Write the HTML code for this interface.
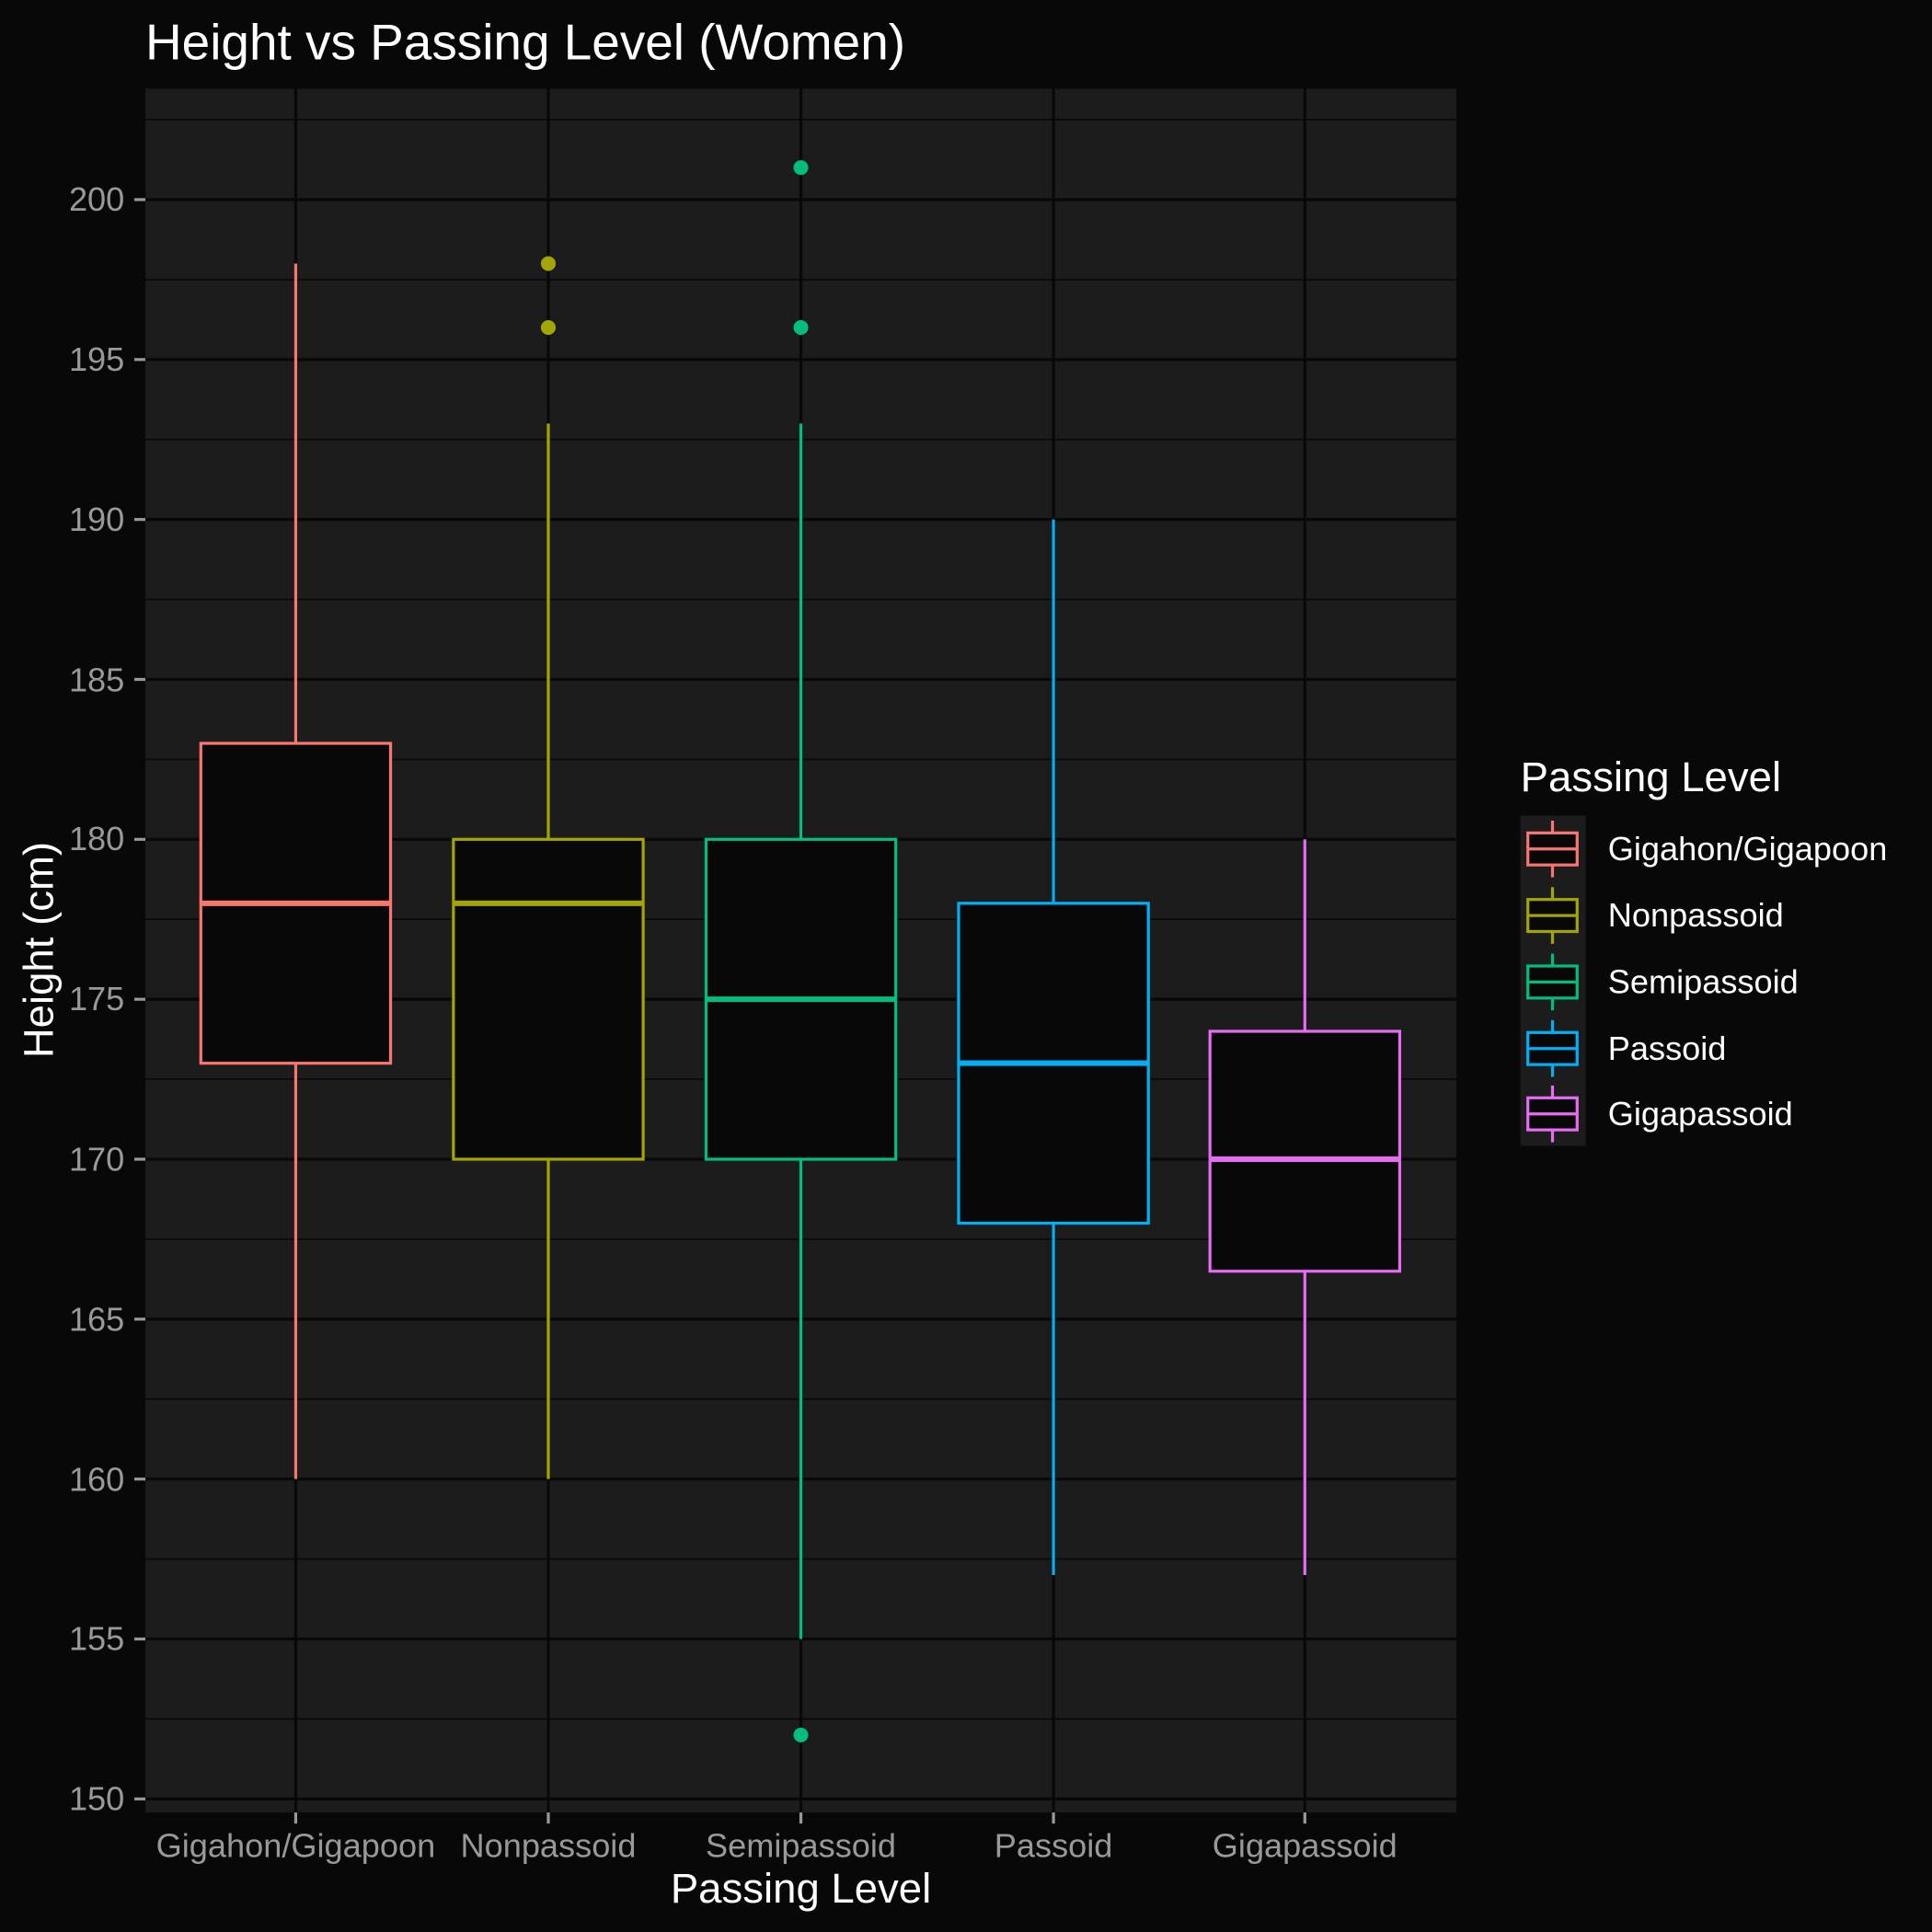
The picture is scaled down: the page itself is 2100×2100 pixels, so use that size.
<!DOCTYPE html>
<html><head><meta charset="utf-8"><style>
html,body{margin:0;padding:0;background:#080808;}
svg{display:block;}
text{font-family:"Liberation Sans",sans-serif;}
</style></head><body>
<svg width="2100" height="2100" viewBox="0 0 1568 1568" xmlns="http://www.w3.org/2000/svg">
<rect width="1568" height="1568" fill="#080808"/>
<text x="118" y="48" font-size="41" fill="#ffffff">Height vs Passing Level (Women)</text>
<rect x="118" y="72" width="1064" height="1399" fill="#1c1c1c"/>
<g stroke="#080808" stroke-width="1.2">
<line x1="118" x2="1182" y1="97.1" y2="97.1"/>
<line x1="118" x2="1182" y1="227" y2="227"/>
<line x1="118" x2="1182" y1="356.7" y2="356.7"/>
<line x1="118" x2="1182" y1="486.5" y2="486.5"/>
<line x1="118" x2="1182" y1="616.3" y2="616.3"/>
<line x1="118" x2="1182" y1="746.1" y2="746.1"/>
<line x1="118" x2="1182" y1="875.9" y2="875.9"/>
<line x1="118" x2="1182" y1="1005.7" y2="1005.7"/>
<line x1="118" x2="1182" y1="1135.5" y2="1135.5"/>
<line x1="118" x2="1182" y1="1265.3" y2="1265.3"/>
<line x1="118" x2="1182" y1="1395.1" y2="1395.1"/>
</g>
<g stroke="#080808" stroke-width="2.4">
<line x1="118" x2="1182" y1="162" y2="162"/>
<line x1="118" x2="1182" y1="291.8" y2="291.8"/>
<line x1="118" x2="1182" y1="421.6" y2="421.6"/>
<line x1="118" x2="1182" y1="551.4" y2="551.4"/>
<line x1="118" x2="1182" y1="681.2" y2="681.2"/>
<line x1="118" x2="1182" y1="811" y2="811"/>
<line x1="118" x2="1182" y1="940.8" y2="940.8"/>
<line x1="118" x2="1182" y1="1070.6" y2="1070.6"/>
<line x1="118" x2="1182" y1="1200.4" y2="1200.4"/>
<line x1="118" x2="1182" y1="1330.2" y2="1330.2"/>
<line x1="118" x2="1182" y1="1460" y2="1460"/>
<line x1="240" x2="240" y1="72" y2="1471"/>
<line x1="445" x2="445" y1="72" y2="1471"/>
<line x1="650" x2="650" y1="72" y2="1471"/>
<line x1="855" x2="855" y1="72" y2="1471"/>
<line x1="1059" x2="1059" y1="72" y2="1471"/>
</g>
<g stroke-width="2.4" fill="#080808">
<g stroke="#F8766D"><line x1="240" x2="240" y1="213.9" y2="1200.4"/><rect x="163" y="603.3" width="154" height="259.6"/><line x1="163" x2="317" y1="733.1" y2="733.1" stroke-width="4.5"/></g>
<g stroke="#A3A500"><line x1="445" x2="445" y1="343.7" y2="1200.4"/><rect x="368" y="681.2" width="154" height="259.6"/><line x1="368" x2="522" y1="733.1" y2="733.1" stroke-width="4.5"/></g>
<g stroke="#00BF7D"><line x1="650" x2="650" y1="343.7" y2="1330.2"/><rect x="573" y="681.2" width="154" height="259.6"/><line x1="573" x2="727" y1="811" y2="811" stroke-width="4.5"/></g>
<g stroke="#00B0F6"><line x1="855" x2="855" y1="421.6" y2="1278.3"/><rect x="778" y="733.1" width="154" height="259.6"/><line x1="778" x2="932" y1="862.9" y2="862.9" stroke-width="4.5"/></g>
<g stroke="#E76BF3"><line x1="1059" x2="1059" y1="681.2" y2="1278.3"/><rect x="982" y="837" width="154" height="194.7"/><line x1="982" x2="1136" y1="940.8" y2="940.8" stroke-width="4.5"/></g>
</g>
<g>
<circle cx="445" cy="213.9" r="6" fill="#A3A500"/><circle cx="445" cy="265.8" r="6" fill="#A3A500"/>
<circle cx="650" cy="136" r="6" fill="#00BF7D"/><circle cx="650" cy="265.8" r="6" fill="#00BF7D"/><circle cx="650" cy="1408.1" r="6" fill="#00BF7D"/>
</g>
<g stroke="#999" stroke-width="2.4">
<line x1="109" x2="118" y1="162" y2="162"/><line x1="109" x2="118" y1="291.8" y2="291.8"/><line x1="109" x2="118" y1="421.6" y2="421.6"/><line x1="109" x2="118" y1="551.4" y2="551.4"/><line x1="109" x2="118" y1="681.2" y2="681.2"/><line x1="109" x2="118" y1="811" y2="811"/><line x1="109" x2="118" y1="940.8" y2="940.8"/><line x1="109" x2="118" y1="1070.6" y2="1070.6"/><line x1="109" x2="118" y1="1200.4" y2="1200.4"/><line x1="109" x2="118" y1="1330.2" y2="1330.2"/><line x1="109" x2="118" y1="1460" y2="1460"/>
<line x1="240" x2="240" y1="1471" y2="1480"/><line x1="445" x2="445" y1="1471" y2="1480"/><line x1="650" x2="650" y1="1471" y2="1480"/><line x1="855" x2="855" y1="1471" y2="1480"/><line x1="1059" x2="1059" y1="1471" y2="1480"/>
</g>
<g fill="#999" font-size="27" text-anchor="end">
<text x="101" y="171">200</text><text x="101" y="301">195</text><text x="101" y="431">190</text><text x="101" y="561">185</text><text x="101" y="690">180</text><text x="101" y="820">175</text><text x="101" y="950">170</text><text x="101" y="1080">165</text><text x="101" y="1210">160</text><text x="101" y="1339">155</text><text x="101" y="1469">150</text>
</g>
<g fill="#999" font-size="27" text-anchor="middle">
<text x="240" y="1507">Gigahon/Gigapoon</text><text x="445" y="1507">Nonpassoid</text><text x="650" y="1507">Semipassoid</text><text x="855" y="1507">Passoid</text><text x="1059" y="1507">Gigapassoid</text>
</g>
<text x="650" y="1544" font-size="34" fill="#fff" text-anchor="middle">Passing Level</text>
<text transform="translate(43,771) rotate(-90)" font-size="34" fill="#fff" text-anchor="middle">Height (cm)</text>
<text x="1234" y="642" font-size="34" fill="#fff">Passing Level</text>
<rect x="1234" y="662" width="53" height="268" fill="#1c1c1c"/>
<g stroke-width="2.4" fill="#080808">
<g stroke="#F8766D"><line x1="1260" x2="1260" y1="666" y2="712"/><rect x="1240" y="676" width="40" height="26"/><line x1="1240" x2="1280" y1="689" y2="689"/></g>
<g stroke="#A3A500"><line x1="1260" x2="1260" y1="720" y2="766"/><rect x="1240" y="730" width="40" height="26"/><line x1="1240" x2="1280" y1="743" y2="743"/></g>
<g stroke="#00BF7D"><line x1="1260" x2="1260" y1="774" y2="820"/><rect x="1240" y="784" width="40" height="26"/><line x1="1240" x2="1280" y1="797" y2="797"/></g>
<g stroke="#00B0F6"><line x1="1260" x2="1260" y1="828" y2="874"/><rect x="1240" y="838" width="40" height="26"/><line x1="1240" x2="1280" y1="851" y2="851"/></g>
<g stroke="#E76BF3"><line x1="1260" x2="1260" y1="881" y2="927"/><rect x="1240" y="891" width="40" height="26"/><line x1="1240" x2="1280" y1="904" y2="904"/></g>
</g>
<g fill="#fff" font-size="27">
<text x="1305" y="698">Gigahon/Gigapoon</text><text x="1305" y="752">Nonpassoid</text><text x="1305" y="806">Semipassoid</text><text x="1305" y="860">Passoid</text><text x="1305" y="913">Gigapassoid</text>
</g>
</svg>
</body></html>
